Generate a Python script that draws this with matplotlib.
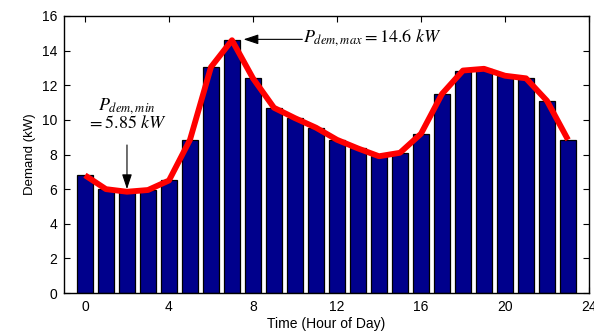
import matplotlib
matplotlib.use("Agg")
import matplotlib.pyplot as plt
import numpy as np

hours = list(range(24))
demand = [6.8, 6.0, 5.85, 5.95, 6.5, 8.85, 13.05, 14.6, 12.4, 10.7, 10.1, 9.55,
          8.85, 8.35, 7.9, 8.1, 9.2, 11.5, 12.85, 12.95, 12.55, 12.4, 11.1, 8.85]
xticks = [0, 4, 8, 12, 16, 20, 24]
yticks = [0, 2, 4, 6, 8, 10, 12, 14, 16]

plt.rcParams['font.family'] = ['Liberation Sans', 'DejaVu Sans']
plt.rcParams['mathtext.fontset'] = 'stix'

fig = plt.figure(figsize=(5.94, 3.33), dpi=100)
ax = fig.add_axes([0.1077, 0.12, 0.8839, 0.832])

ax.bar(hours, demand, width=0.8, color='#00008C', edgecolor='black', linewidth=0.9, zorder=2)
ax.plot(hours, demand, color='#FF0000', linewidth=4.2, solid_joinstyle='round',
        solid_capstyle='butt', zorder=3)

ax.set_xlim(-1, 24)
ax.set_ylim(0, 16)
ax.set_xticks(xticks)
ax.set_yticks(yticks)
ax.tick_params(direction='in', top=True, right=True, labelsize=10, length=4, width=0.8, pad=5)
for s in ax.spines.values():
    s.set_linewidth(1.0)

ax.set_xlabel('Time (Hour of Day)', fontsize=10, labelpad=2)
ax.set_ylabel('Demand (kW)', fontsize=9.5, labelpad=4)

arrow = dict(arrowstyle='-|>,head_length=0.9,head_width=0.3', color='black', lw=0.8,
             shrinkA=0, shrinkB=0)
ax.annotate('', xy=(2, 6.0), xytext=(2, 8.55), arrowprops=arrow, zorder=4)
ax.text(2, 9.3, r'$P_{dem,min}$' + '\n' + r'$= \mathit{5.85}\ kW$', ha='center', va='bottom',
        fontsize=13, linespacing=0.95)

ax.annotate('', xy=(7.55, 14.65), xytext=(10.35, 14.65), arrowprops=arrow, zorder=4)
ax.text(10.4, 14.75, r'$P_{dem,max} = \mathit{14.6}\ kW$', ha='left', va='center', fontsize=13)

fig.savefig('out.png', dpi=100)
